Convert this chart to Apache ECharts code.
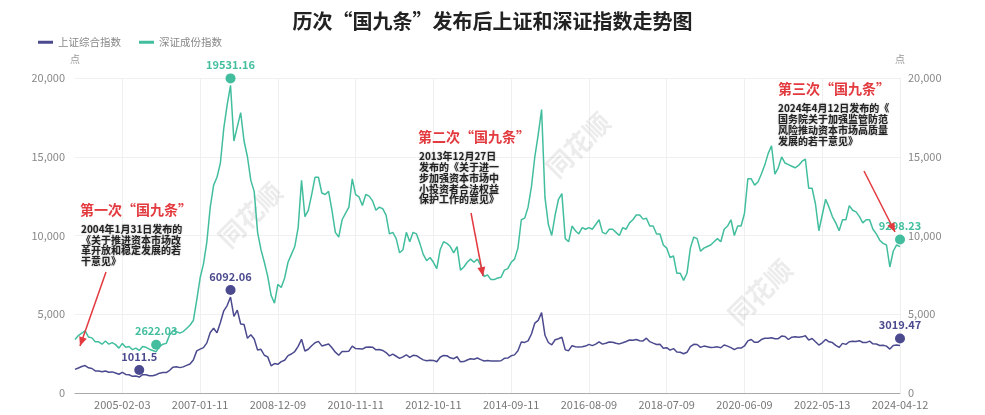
<!DOCTYPE html>
<html>
<head>
<meta charset="utf-8">
<script src="https://cdn.jsdelivr.net/npm/echarts@6/dist/echarts.min.js"></script>
<style>html,body{margin:0;padding:0;background:#fff;}#c{width:985px;height:415px;}</style>
</head>
<body>
<div id="c"></div>
<script>
// Monthly sampling dates (category axis)
const categories = [
'2003-12-15',
'2004-01-15','2004-02-15','2004-03-15','2004-04-15','2004-05-15','2004-06-15','2004-07-15','2004-08-15','2004-09-15','2004-10-15','2004-11-15','2004-12-15',
'2005-01-15','2005-02-03','2005-03-15','2005-04-15','2005-05-15','2005-06-15','2005-07-15','2005-08-15','2005-09-15','2005-10-15','2005-11-15','2005-12-15',
'2006-01-15','2006-02-15','2006-03-15','2006-04-15','2006-05-15','2006-06-15','2006-07-15','2006-08-15','2006-09-15','2006-10-15','2006-11-15','2006-12-15',
'2007-01-11','2007-02-15','2007-03-15','2007-04-15','2007-05-15','2007-06-15','2007-07-15','2007-08-15','2007-09-15','2007-10-15','2007-11-15','2007-12-15',
'2008-01-15','2008-02-15','2008-03-15','2008-04-15','2008-05-15','2008-06-15','2008-07-15','2008-08-15','2008-09-15','2008-10-15','2008-11-15','2008-12-09',
'2009-01-15','2009-02-15','2009-03-15','2009-04-15','2009-05-15','2009-06-15','2009-07-15','2009-08-15','2009-09-15','2009-10-15','2009-11-15','2009-12-15',
'2010-01-15','2010-02-15','2010-03-15','2010-04-15','2010-05-15','2010-06-15','2010-07-15','2010-08-15','2010-09-15','2010-10-15','2010-11-11','2010-12-15',
'2011-01-15','2011-02-15','2011-03-15','2011-04-15','2011-05-15','2011-06-15','2011-07-15','2011-08-15','2011-09-15','2011-10-15','2011-11-15','2011-12-15',
'2012-01-15','2012-02-15','2012-03-15','2012-04-15','2012-05-15','2012-06-15','2012-07-15','2012-08-15','2012-09-15','2012-10-11','2012-11-15','2012-12-15',
'2013-01-15','2013-02-15','2013-03-15','2013-04-15','2013-05-15','2013-06-15','2013-07-15','2013-08-15','2013-09-15','2013-10-15','2013-11-15','2013-12-15',
'2014-01-15','2014-02-15','2014-03-15','2014-04-15','2014-05-15','2014-06-15','2014-07-15','2014-08-15','2014-09-11','2014-10-15','2014-11-15','2014-12-15',
'2015-01-15','2015-02-15','2015-03-15','2015-04-15','2015-05-15','2015-06-15','2015-07-15','2015-08-15','2015-09-15','2015-10-15','2015-11-15','2015-12-15',
'2016-01-15','2016-02-15','2016-03-15','2016-04-15','2016-05-15','2016-06-15','2016-07-15','2016-08-09','2016-09-15','2016-10-15','2016-11-15','2016-12-15',
'2017-01-15','2017-02-15','2017-03-15','2017-04-15','2017-05-15','2017-06-15','2017-07-15','2017-08-15','2017-09-15','2017-10-15','2017-11-15','2017-12-15',
'2018-01-15','2018-02-15','2018-03-15','2018-04-15','2018-05-15','2018-06-15','2018-07-09','2018-08-15','2018-09-15','2018-10-15','2018-11-15','2018-12-15',
'2019-01-15','2019-02-15','2019-03-15','2019-04-15','2019-05-15','2019-06-15','2019-07-15','2019-08-15','2019-09-15','2019-10-15','2019-11-15','2019-12-15',
'2020-01-15','2020-02-15','2020-03-15','2020-04-15','2020-05-15','2020-06-09','2020-07-15','2020-08-15','2020-09-15','2020-10-15','2020-11-15','2020-12-15',
'2021-01-15','2021-02-15','2021-03-15','2021-04-15','2021-05-15','2021-06-15','2021-07-15','2021-08-15','2021-09-15','2021-10-15','2021-11-15','2021-12-15',
'2022-01-15','2022-02-15','2022-03-15','2022-04-15','2022-05-13','2022-06-15','2022-07-15','2022-08-15','2022-09-15','2022-10-15','2022-11-15','2022-12-15',
'2023-01-15','2023-02-15','2023-03-15','2023-04-15','2023-05-15','2023-06-15','2023-07-15','2023-08-15','2023-09-15','2023-10-15','2023-11-15','2023-12-15',
'2024-01-15','2024-02-15','2024-03-15','2024-04-12'
];

const xTickLabels = ['2005-02-03','2007-01-11','2008-12-09','2010-11-11','2012-10-11','2014-09-11','2016-08-09','2018-07-09','2020-06-09','2022-05-13','2024-04-12'];
const yTicks = [0, 5000, 10000, 15000, 20000];

// 上证综合指数
const shIndex = [
1497,
1590,1680,1742,1600,1555,1400,1390,1345,1400,1320,1340,1266,
1190,1306,1180,1160,1060,1080,1011.5,1162,1155,1092,1100,1161,
1258,1299,1298,1440,1641,1672,1612,1658,1752,1837,2099,2675,
2786,2881,3183,3841,4109,3820,4471,5218,5552,6092.06,4871,5262,
4383,4348,3472,3693,3433,2736,2775,2397,2293,1729,1871,1821,
1991,2082,2374,2477,2633,2959,3412,2668,2779,2996,3195,3277,
2989,3051,3110,2870,2592,2398,2638,2639,2656,2979,2820,2808,
2790,2905,2928,2911,2743,2762,2701,2568,2359,2468,2333,2199,
2292,2428,2262,2396,2372,2225,2103,2047,2086,2068,1980,2269,
2385,2365,2236,2177,2301,1979,1994,2098,2175,2141,2220,2116,
2033,2056,2033,2026,2039,2048,2201,2217,2364,2420,2683,3235,
3210,3310,3748,4442,4612,5100,3664,3206,3053,3383,3445,3539,
2738,2688,3004,2938,2917,2930,2979,3085,3005,3100,3250,3104,
3159,3242,3223,3155,3117,3192,3273,3361,3349,3393,3317,3307,
3481,3259,3169,3082,3095,2847,2876,2725,2821,2603,2588,2494,
2585,2941,3091,3078,2899,2979,2933,2886,2905,2929,2871,3050,
2977,2880,2750,2860,2852,2985,3310,3396,3218,3225,3392,3473,
3483,3509,3442,3447,3615,3591,3397,3544,3568,3547,3564,3640,
3361,3462,3252,3047,3186,3399,3253,3202,3024,2893,3151,3089,
3256,3280,3273,3323,3205,3202,3291,3120,3110,3018,3030,2975,
2789,3015,3041,3019.47
];

// 深证成份指数
const szIndex = [
3400,
3650,3800,3950,3550,3500,3250,3250,3100,3300,3100,3200,3070,
2850,3150,2900,2950,2750,2850,2700,2950,2900,2780,2700,2622.03,
2950,3100,3150,3700,3950,3900,3800,3900,4100,4300,4600,5900,
7300,8200,9600,11800,13200,13700,14600,16800,18300,19531.16,16000,16900,
17800,16000,15000,13500,12800,10200,9100,8300,7400,6200,5700,6900,
6700,7300,8300,8800,9300,10500,13500,11200,11600,12600,13700,13700,
12700,12600,12800,11600,10200,9900,11000,11400,11800,13600,12600,12450,
11900,12600,12500,12200,11600,11800,11700,11300,10100,10200,9800,8900,
9100,10200,9600,10200,10100,9500,8800,8400,8600,8300,7900,9100,
9600,9500,9300,8900,9300,7800,8000,8300,8500,8300,8500,8100,
7400,7500,7200,7200,7300,7350,7800,7900,8300,8500,9200,11000,
11100,11800,13100,15000,16400,18000,12400,10700,10000,11300,12300,12660,
9800,9600,10600,10300,10100,10500,10400,10500,10400,10700,11000,10200,
10100,10400,10400,10200,10000,10500,10400,10800,11000,11300,11300,11040,
11100,10600,10600,10100,10100,9400,9200,8600,8700,7600,7600,7150,
7600,9200,9900,9800,9000,9200,9300,9400,9600,9800,9600,10400,
10600,11000,10000,10600,10600,11400,13600,13600,13200,13400,13900,14470,
15200,15700,13900,14300,14990,14600,14500,14400,14300,14450,14700,14857,
13000,13000,12000,10300,11300,12300,11800,11200,10800,10300,11000,11000,
11900,11600,11500,11200,10800,11000,11000,10400,10100,9700,9500,9400,
8000,9000,9400,9298.23
];

const seriesNames = ['上证综合指数', '深证成份指数'];
const colorSH = '#4b4a8e';
const colorSZ = '#42be9e';

const annotations = [
  { title: '第一次“国九条”', lines: ['2004年1月31日发布的','《关于推进资本市场改','革开放和稳定发展的若','干意见》'], tx: 80, ty: 203, bx: 81, by: 224, lh: 10.6, arrow: [106, 272, 80, 346] },
  { title: '第二次“国九条”', lines: ['2013年12月27日','发布的《关于进一','步加强资本市场中','小投资者合法权益','保护工作的意见》'], tx: 418, ty: 130, bx: 419, by: 151, lh: 10.8, arrow: [471, 213, 483, 276] },
  { title: '第三次“国九条”', lines: ['2024年4月12日发布的《','国务院关于加强监管防范','风险推动资本市场高质量','发展的若干意见》'], tx: 778, ty: 82, bx: 778, by: 103, lh: 11, arrow: [864, 171, 895, 232] }
];

const FONT = '"Noto Sans CJK SC", "Noto Sans", sans-serif';
const last = categories.length - 1;
const isTick = (i, v) => xTickLabels.indexOf(v) >= 0;
const fmt = v => Number(v).toLocaleString('en-US');

const graphics = [];
// watermarks
[[250, 215], [578, 145], [760, 292]].forEach(p => {
  graphics.push({ type: 'text', x: p[0], y: p[1], rotation: Math.PI / 4, z: 1,
    style: { text: '同花顺', fill: 'rgba(150,150,150,0.18)', font: 'bold 26px ' + FONT, align: 'center', verticalAlign: 'middle' } });
});
annotations.forEach(a => {
  graphics.push({ type: 'text', x: a.tx, y: a.ty, z: 100,
    style: { text: a.title, fill: '#e23a3f', font: 'bold 14px ' + FONT, verticalAlign: 'top' } });
  graphics.push({ type: 'text', x: a.bx, y: a.by, z: 100,
    style: { text: a.lines.join('\n'), fill: '#222', font: 'bold 10px ' + FONT, lineHeight: a.lh, verticalAlign: 'top',
      textShadowColor: 'rgba(0,0,0,0.35)', textShadowBlur: 2 } });
  const [x1, y1, x2, y2] = a.arrow;
  graphics.push({ type: 'line', z: 100, shape: { x1, y1, x2, y2 }, style: { stroke: '#e23a3f', lineWidth: 1.5 } });
  const ang = Math.atan2(y2 - y1, x2 - x1), L = 9, W = 4;
  const bx = x2 - L * Math.cos(ang), by = y2 - L * Math.sin(ang);
  graphics.push({ type: 'polygon', z: 100, shape: { points: [[x2, y2], [bx + W * Math.sin(ang), by - W * Math.cos(ang)], [bx - W * Math.sin(ang), by + W * Math.cos(ang)]] }, style: { fill: '#e23a3f' } });
});

function markPts(vals, color) {
  return {
    symbol: 'circle', symbolSize: 10, symbolOffset: [0, -7],
    itemStyle: { color: color },
    label: { show: true, position: 'top', distance: 3, color: color, fontSize: 11, fontWeight: 'bold', fontFamily: FONT, formatter: p => String(p.value) },
    data: [
      { type: 'max' },
      { type: 'min' },
      { coord: [categories[last], vals[last]], value: vals[last] }
    ]
  };
}

const chart = echarts.init(document.getElementById('c'), null, { renderer: 'canvas' });
chart.setOption({
  animation: false,
  backgroundColor: '#fff',
  textStyle: { fontFamily: FONT },
  title: { text: '历次“国九条”发布后上证和深证指数走势图', left: 'center', top: 6,
    textStyle: { fontSize: 20, fontWeight: 'bold', color: '#222', fontFamily: FONT } },
  legend: { left: 33, top: 32, itemWidth: 15, itemHeight: 3, itemGap: 18, icon: 'rect',
    textStyle: { color: '#888', fontSize: 10.5, fontFamily: FONT }, data: seriesNames },
  grid: { left: 75, right: 85, top: 78, bottom: 22, containLabel: false },
  xAxis: {
    type: 'category', data: categories, boundaryGap: false,
    axisLine: { lineStyle: { color: '#aaa' } },
    axisTick: { show: false },
    axisLabel: { interval: isTick, color: '#777', fontSize: 11, margin: 6, fontFamily: FONT },
    splitLine: { show: true, interval: isTick, lineStyle: { color: '#f0f0f0' } }
  },
  yAxis: [
    { type: 'value', min: yTicks[0], max: yTicks[yTicks.length - 1], interval: yTicks[1] - yTicks[0], name: '点', nameGap: 14,
      nameTextStyle: { color: '#999', fontSize: 10 },
      axisLine: { show: false }, axisTick: { show: false },
      axisLabel: { color: '#888', fontSize: 11, margin: 10, formatter: fmt },
      splitLine: { lineStyle: { color: '#f0f0f0' } } },
    { type: 'value', min: yTicks[0], max: yTicks[yTicks.length - 1], interval: yTicks[1] - yTicks[0], name: '点', nameGap: 14,
      nameTextStyle: { color: '#999', fontSize: 10 },
      axisLine: { show: false }, axisTick: { show: false },
      axisLabel: { color: '#888', fontSize: 11, margin: 8, formatter: fmt },
      splitLine: { show: false } }
  ],
  series: [
    { name: seriesNames[0], type: 'line', yAxisIndex: 0, data: shIndex, showSymbol: false, symbol: 'none',
      lineStyle: { color: colorSH, width: 1.5 }, itemStyle: { color: colorSH }, z: 3,
      markPoint: markPts(shIndex, colorSH) },
    { name: seriesNames[1], type: 'line', yAxisIndex: 1, data: szIndex, showSymbol: false, symbol: 'none',
      lineStyle: { color: colorSZ, width: 1.5 }, itemStyle: { color: colorSZ }, z: 2,
      markPoint: markPts(szIndex, colorSZ) }
  ],
  graphic: graphics
});
</script>
</body>
</html>
